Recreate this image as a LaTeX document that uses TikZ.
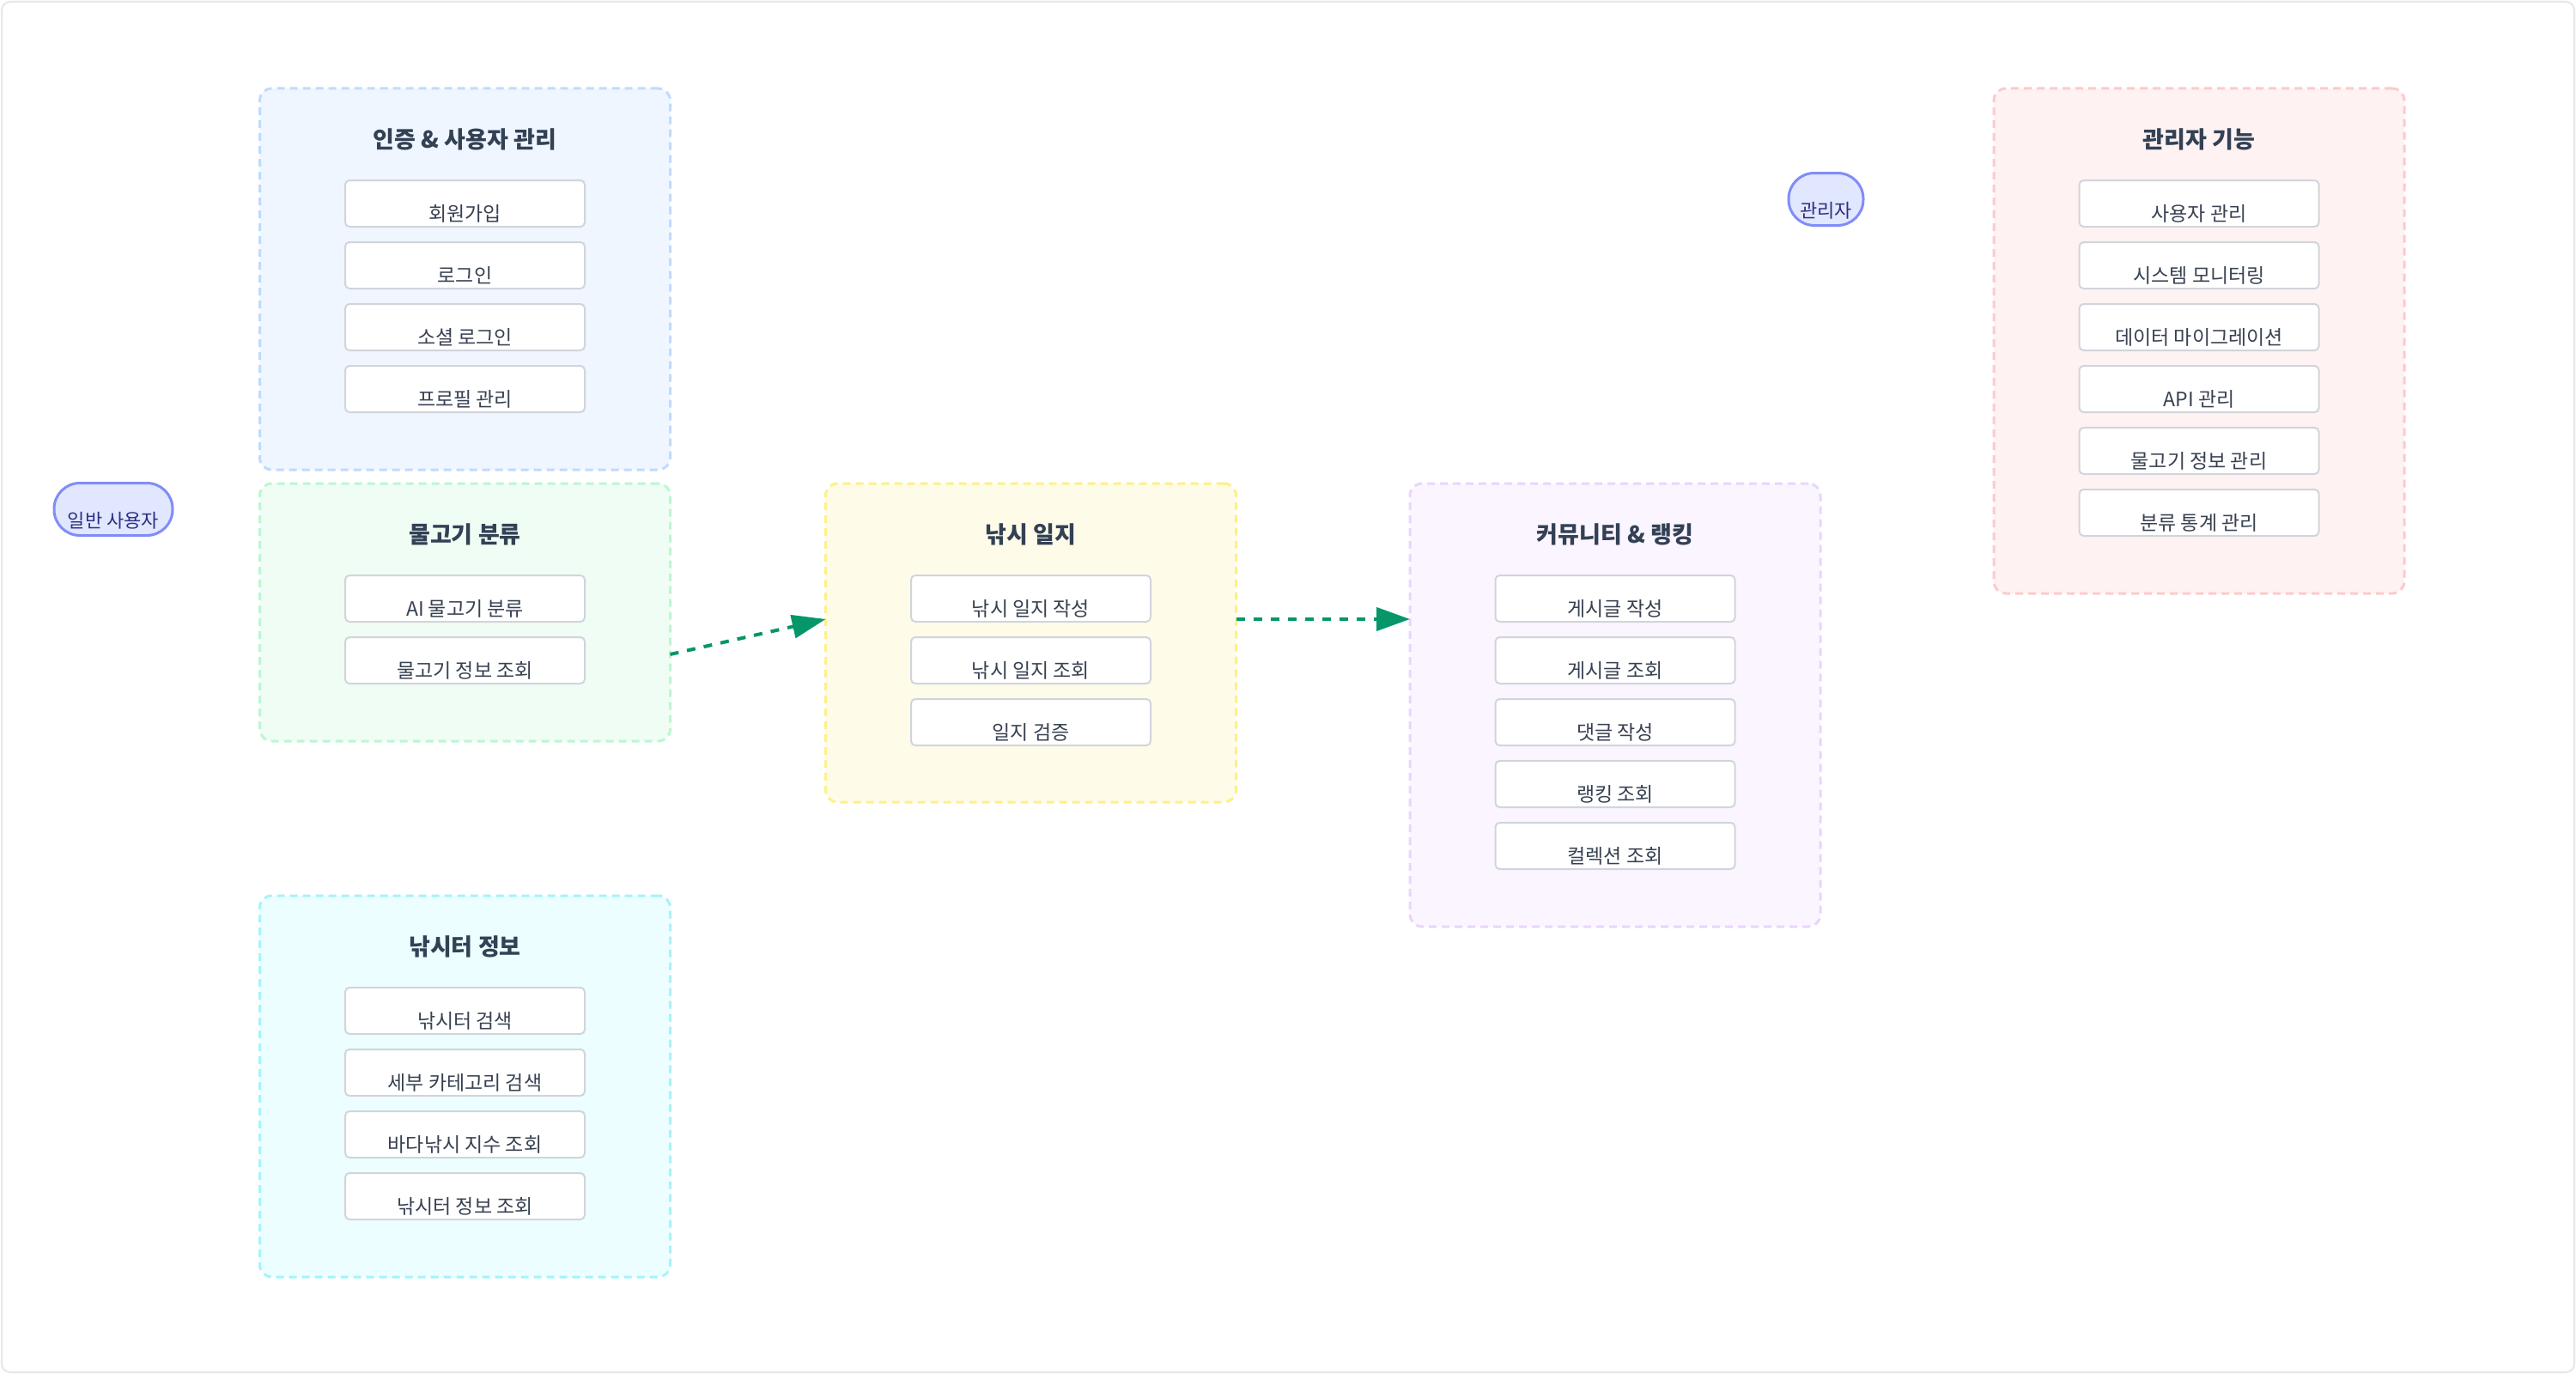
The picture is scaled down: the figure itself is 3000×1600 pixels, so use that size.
\documentclass[tikz,border=0pt]{standalone}
\usepackage{fontspec}
\setmainfont{Noto Sans CJK KR}
\usetikzlibrary{positioning,calc,arrows.meta}

\definecolor{authFill}{HTML}{EFF6FF}\definecolor{authLine}{HTML}{BFDBFE}
\definecolor{fishFill}{HTML}{F0FDF4}\definecolor{fishLine}{HTML}{BBF7D0}
\definecolor{logFill}{HTML}{FEFCE8}\definecolor{logLine}{HTML}{FEF08A}
\definecolor{commFill}{HTML}{FAF5FF}\definecolor{commLine}{HTML}{E9D5FF}
\definecolor{mgmtFill}{HTML}{FEF2F2}\definecolor{mgmtLine}{HTML}{FECACA}
\definecolor{spotFill}{HTML}{ECFEFF}\definecolor{spotLine}{HTML}{A5F3FC}
\definecolor{itemLine}{HTML}{D1D5DB}\definecolor{itemText}{HTML}{374151}
\definecolor{ttlText}{HTML}{334155}
\definecolor{actorFill}{HTML}{E0E7FF}\definecolor{actorLine}{HTML}{818CF8}
\definecolor{actorText}{HTML}{312E81}
\definecolor{flowCol}{HTML}{059669}\definecolor{frameCol}{HTML}{E5E7EB}

\begin{document}
\begin{tikzpicture}[x=0.5pt,y=-0.5pt,
  grp/.style={line width=1.5pt, dash pattern={on 4.5pt off 3pt}, rounded corners=7pt, minimum width=239pt, inner sep=0pt, outer sep=0pt},
  ttl/.style={font=\bfseries\fontsize{13.5}{16}\selectfont, text=ttlText, inner sep=0pt},
  item/.style={draw=itemLine, fill=white, line width=1pt, rounded corners=2.5pt, minimum width=139.5pt, minimum height=27pt, inner sep=0pt, outer sep=0pt, text height=20pt, text depth=0pt, font=\fontsize{11.5}{14}\selectfont, text=itemText},
  actor/.style={draw=actorLine, fill=actorFill, line width=1.5pt, rounded corners=15pt, minimum height=30.5pt, inner sep=0pt, text height=21.5pt, text depth=0pt, font=\fontsize{11}{13}\selectfont, text=actorText},
  flow/.style={draw=flowCol, line width=2pt, dash pattern={on 5pt off 5pt}, -{Triangle[length=19.5pt,width=13.5pt]}}
]
\useasboundingbox (0,0) rectangle (3000,1600);
\fill[white] (0,0) rectangle (3000,1600);
%Shape: Frame
\draw[frameCol, line width=1pt, rounded corners=5pt] (2,2) rectangle (2998,1598);

%Shape: Actors
\node[actor, minimum width=69pt] (user) at (132,593) {일반 사용자};
\node[actor, minimum width=43.5pt] (admin) at (2126.5,232) {관리자};

%Shape: Group auth
\node[grp, draw=authLine, fill=authFill, minimum height=222pt] (auth) at (541.5,325) {};
\node[ttl] (auth-t) at ([yshift=-29.75pt]auth.north) {인증 \& 사용자 관리};
\node[item] (signup) at ([yshift=-67pt]auth.north) {회원가입};
\node[item, below=9pt of signup] (login) {로그인};
\node[item, below=9pt of login] (social) {소셜 로그인};
\node[item, below=9pt of social] (profile) {프로필 관리};

%Shape: Group fish
\node[grp, draw=fishLine, fill=fishFill, minimum height=150pt] (fish) at (541.5,713) {};
\node[ttl] (fish-t) at ([yshift=-29.75pt]fish.north) {물고기 분류};
\node[item] (aiclass) at ([yshift=-67pt]fish.north) {AI 물고기 분류};
\node[item, below=9pt of aiclass] (fishinfo) {물고기 정보 조회};

%Shape: Group spot
\node[grp, draw=spotLine, fill=spotFill, minimum height=222pt] (spot) at (541.5,1265) {};
\node[ttl] (spot-t) at ([yshift=-29.75pt]spot.north) {낚시터 정보};
\node[item] (spotsearch) at ([yshift=-67pt]spot.north) {낚시터 검색};
\node[item, below=9pt of spotsearch] (catsearch) {세부 카테고리 검색};
\node[item, below=9pt of catsearch] (seaindex) {바다낚시 지수 조회};
\node[item, below=9pt of seaindex] (spotinfo) {낚시터 정보 조회};

%Shape: Group log
\node[grp, draw=logLine, fill=logFill, minimum height=185.5pt] (log) at (1200.5,748.5) {};
\node[ttl] (log-t) at ([yshift=-29.75pt]log.north) {낚시 일지};
\node[item] (logwrite) at ([yshift=-67pt]log.north) {낚시 일지 작성};
\node[item, below=9pt of logwrite] (logview) {낚시 일지 조회};
\node[item, below=9pt of logview] (logcheck) {일지 검증};

%Shape: Group comm
\node[grp, draw=commLine, fill=commFill, minimum height=258pt] (comm) at (1881,821) {};
\node[ttl] (comm-t) at ([yshift=-29.75pt]comm.north) {커뮤니티 \& 랭킹};
\node[item] (postwrite) at ([yshift=-67pt]comm.north) {게시글 작성};
\node[item, below=9pt of postwrite] (postview) {게시글 조회};
\node[item, below=9pt of postview] (reply) {댓글 작성};
\node[item, below=9pt of reply] (rank) {랭킹 조회};
\node[item, below=9pt of rank] (collect) {컬렉션 조회};

%Shape: Group mgmt
\node[grp, draw=mgmtLine, fill=mgmtFill, minimum height=294pt] (mgmt) at (2561,397) {};
\node[ttl] (mgmt-t) at ([yshift=-29.75pt]mgmt.north) {관리자 기능};
\node[item] (usermgmt) at ([yshift=-67pt]mgmt.north) {사용자 관리};
\node[item, below=9pt of usermgmt] (monitor) {시스템 모니터링};
\node[item, below=9pt of monitor] (migrate) {데이터 마이그레이션};
\node[item, below=9pt of migrate] (apimgmt) {API 관리};
\node[item, below=9pt of apimgmt] (fishmgmt) {물고기 정보 관리};
\node[item, below=9pt of fishmgmt] (statmgmt) {분류 통계 관리};

%Straight Lines
\draw[flow] ($(fish.east)+(0,49)$) -- ($(log.west)+(0,-27.5)$);
\draw[flow] ($(log.east)+(0,-27.5)$) -- ($(comm.west)+(0,-100)$);

\end{tikzpicture}
\end{document}
